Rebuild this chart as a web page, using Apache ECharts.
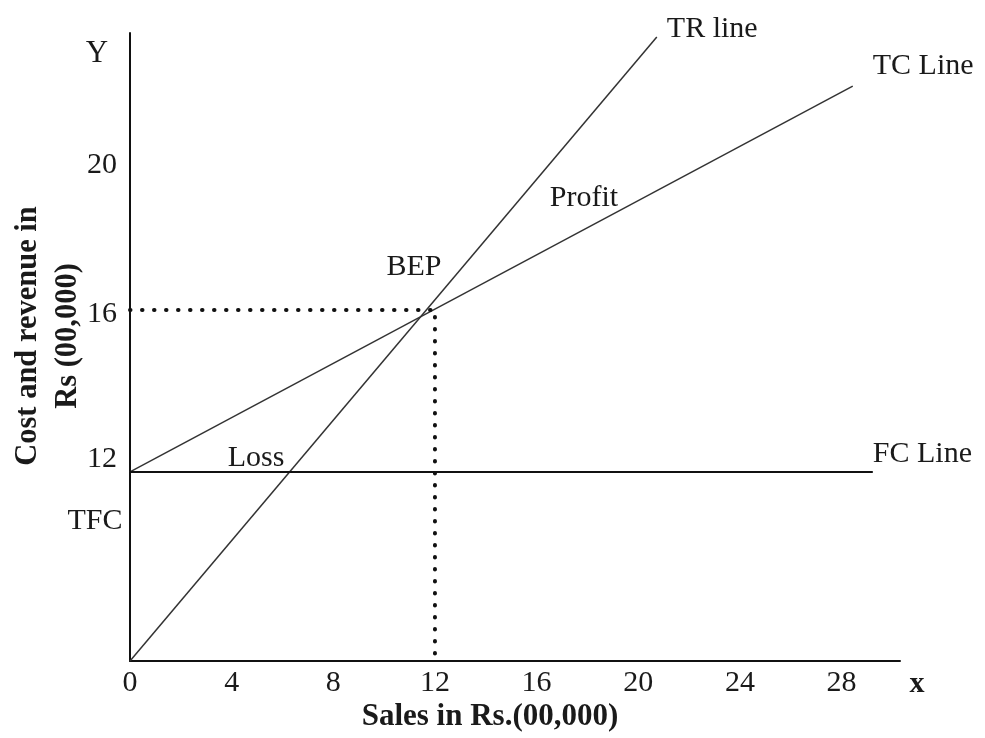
<!DOCTYPE html>
<html>
<head>
<meta charset="utf-8">
<script src="https://cdn.jsdelivr.net/npm/echarts@6/dist/echarts.min.js"></script>
<style>
  html, body { margin: 0; padding: 0; background: #fff; }
  #chart { width: 985px; height: 738px; }
</style>
</head>
<body>
<div id="chart"></div>
<script>
// values (sales and cost in Rs 00,000)
var xTicks = [0, 4, 8, 12, 16, 20, 24, 28];
var yTicks = [12, 16, 20];
var trLine = [[0, 7.33], [20.73, 22.74]];
var tcLine = [[0, 12], [28.44, 21.53]];
var fcLine = [[0, 12], [29.23, 12]];
var bepGuide = [[0, 16], [12, 16], [12, 7.33]];

var font = "Liberation Serif";
var ink = "#1a1a1a";

var chart = echarts.init(document.getElementById("chart"));

function lineSeries(name, data, width, color, label, offset) {
  return {
    name: name,
    type: "line",
    data: data,
    symbol: "none",
    silent: true,
    lineStyle: { color: color, width: width },
    endLabel: {
      show: !!label,
      formatter: label || "",
      color: ink,
      fontFamily: font,
      fontSize: 30,
      align: "left",
      verticalAlign: "middle",
      offset: offset || [0, 0]
    }
  };
}

// the hand drawn labels on the y axis sit a little off their lines
function yLabel(v) {
  if (v === 20) return "{lo|20}";
  if (v === 12) return "{hi|12}";
  return "{mid|" + v + "}";
}

var tickText = { fontFamily: font, fontSize: 30, color: ink };

var option = {
  animation: false,
  backgroundColor: "#fff",
  grid: { left: 130, right: 85, top: 33, bottom: 77, containLabel: false, outerBoundsMode: "none" },
  xAxis: {
    type: "value",
    min: 0,
    max: 30.3,
    name: "Sales in Rs.(00,000)",
    nameLocation: "middle",
    nameGap: 40,
    nameMoveOverlap: false,
    nameTextStyle: {
      fontFamily: font,
      fontWeight: "bold",
      fontSize: 31,
      color: ink,
      padding: [0, 50, 0, 0]
    },
    axisLine: { onZero: false, lineStyle: { color: "#111", width: 2 } },
    axisTick: { show: false },
    splitLine: { show: false },
    axisLabel: {
      customValues: xTicks,
      fontFamily: font,
      fontSize: 30,
      color: ink,
      margin: 7
    }
  },
  yAxis: {
    type: "value",
    min: 7.33,
    max: 22.84,
    name: "Cost and revenue in\nRs (00,000)",
    nameLocation: "middle",
    nameRotate: 90,
    nameGap: 42,
    nameMoveOverlap: false,
    nameTextStyle: {
      fontFamily: font,
      fontWeight: "bold",
      fontSize: 30.5,
      lineHeight: 40,
      color: ink,
      padding: [0, 0, 0, 22]
    },
    axisLine: { onZero: false, lineStyle: { color: "#111", width: 2 } },
    axisTick: { show: false },
    splitLine: { show: false },
    axisLabel: {
      customValues: yTicks,
      margin: 13,
      formatter: yLabel,
      rich: {
        lo: Object.assign({ padding: [34, 0, 0, 0] }, tickText),
        mid: Object.assign({ padding: [8, 0, 0, 0] }, tickText),
        hi: Object.assign({ padding: [0, 0, 26, 0] }, tickText)
      }
    }
  },
  series: [
    lineSeries("TR", trLine, 1.5, "#333", "TR line", [2, -8]),
    lineSeries("TC", tcLine, 1.5, "#333", "TC Line", [12, -20]),
    lineSeries("FC", fcLine, 2, "#111", "FC Line", [-8, -18]),
    {
      name: "BEP guide",
      type: "line",
      data: bepGuide,
      symbol: "none",
      silent: true,
      lineStyle: { color: "#111", width: 4, type: [0.5, 11.5], cap: "round" }
    }
  ],
  graphic: [
    { type: "text", x: 97, y: 54, style: { text: "Y", font: "31px " + font, fill: ink, align: "center", verticalAlign: "middle" } },
    { type: "text", x: 917, y: 684, style: { text: "x", font: "bold 30px " + font, fill: ink, align: "center", verticalAlign: "middle" } },
    { type: "text", x: 414, y: 267, style: { text: "BEP", font: "30px " + font, fill: ink, align: "center", verticalAlign: "middle" } },
    { type: "text", x: 584, y: 198, style: { text: "Profit", font: "30px " + font, fill: ink, align: "center", verticalAlign: "middle" } },
    { type: "text", x: 256, y: 458, style: { text: "Loss", font: "30px " + font, fill: ink, align: "center", verticalAlign: "middle" } },
    { type: "text", x: 95, y: 521, style: { text: "TFC", font: "30px " + font, fill: ink, align: "center", verticalAlign: "middle" } }
  ]
};

chart.setOption(option);
</script>
</body>
</html>
